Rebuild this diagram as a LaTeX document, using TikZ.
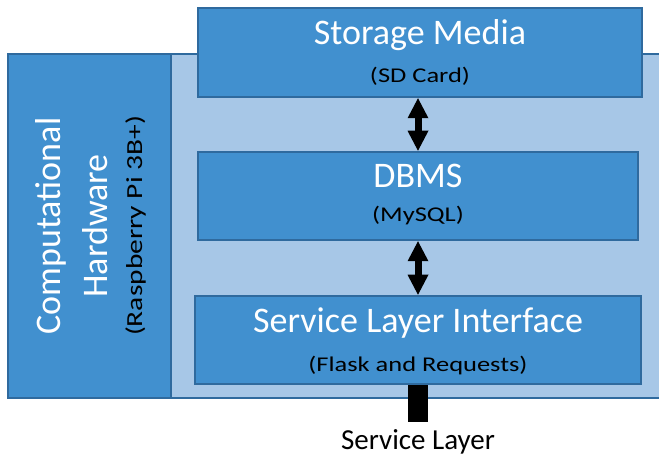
\documentclass[tikz,border=0pt]{standalone}
\usepackage{fontspec}
\setmainfont{Carlito}
\usetikzlibrary{arrows.meta,positioning}
\definecolor{boxblue}{HTML}{4190CF}
\definecolor{edgeblue}{HTML}{2F6A9E}
\definecolor{paleblue}{HTML}{A7C7E7}
% wide, slightly stretched caption text
\newcommand{\widecap}[1]{\scalebox{1.26}[1]{#1}}
\tikzset{
  layer/.style={draw=edgeblue, fill=boxblue, line width=2.5pt, inner sep=0pt},
  backplate/.style={draw=edgeblue, fill=paleblue, line width=2.5pt},
  title/.style={text=white, font=\fontsize{36}{40}\selectfont, inner sep=0pt, anchor=base},
  subtitle/.style={text=black, font=\fontsize{21}{25}\selectfont, inner sep=0pt, anchor=base},
  link/.style={line width=7pt, {Triangle[width=21pt,length=20pt,line width=0pt]}-{Triangle[width=21pt,length=20pt,line width=0pt]}},
  plug/.style={line width=20pt, black},
}
\begin{document}
\begin{tikzpicture}[x=1pt,y=-1pt]
\useasboundingbox (0,0) rectangle (659,457);
% pale plate holding the software stack
\draw[backplate] (165,54) rectangle (680,398);
% hardware column
\node[layer, minimum width=163pt, minimum height=344pt] (hw) at (89.5,226) {};
\node[title, rotate=90] (hw1) at (60,226) {Computational};
\node[title, rotate=90] (hw2) at (107,226) {Hardware};
\node[subtitle, rotate=90, font=\fontsize{23}{27}\selectfont] (hw3) at (142,226) {\scalebox{1.28}[1]{(Raspberry Pi 3B+)}};
% software layers
\node[layer, minimum width=444pt, minimum height=89pt] (st) at (420,52.5) {};
\node[title] (st1) at ([yshift=-38pt]st.north) {Storage Media};
\node[subtitle] (st2) at ([yshift=-76pt]st.north) {\widecap{(SD Card)}};
\node[layer, minimum width=440pt, minimum height=88pt] (db) at (418,196) {};
\node[title] (db1) at ([yshift=-37pt]db.north) {DBMS};
\node[subtitle] (db2) at ([yshift=-71pt]db.north) {\widecap{(MySQL)}};
\node[layer, minimum width=446pt, minimum height=88pt] (sl) at (418,340) {};
\node[title] (sl1) at ([yshift=-38pt]sl.north) {Service Layer Interface};
\node[subtitle] (sl2) at ([yshift=-77pt]sl.north) {\widecap{(Flask and Requests)}};
% connectors
\draw[link] (db.north |- st.south) -- (db.north);
\draw[link] (sl.north |- db.south) -- (sl.north);
\coordinate (plugend) at (418,422);
\draw[plug] (sl.south) -- (plugend);
\node[text=black, font=\fontsize{29}{33}\selectfont, inner sep=0pt, anchor=base] (svc) at (418,449) {Service Layer};
\end{tikzpicture}
\end{document}
